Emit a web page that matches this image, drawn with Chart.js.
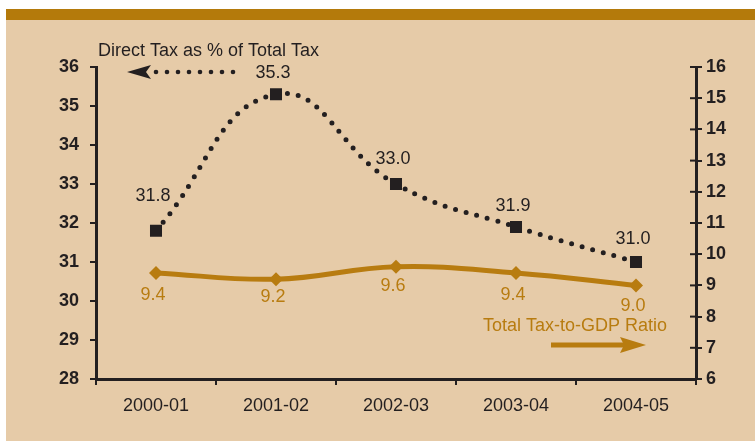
<!DOCTYPE html>
<html>
<head>
<meta charset="utf-8">
<script src="https://cdn.jsdelivr.net/npm/chart.js@4.4.1/dist/chart.umd.min.js"></script>
<style>
  html, body { margin: 0; padding: 0; background: #ffffff; }
  #wrap { width: 755px; height: 441px; position: relative; }
</style>
</head>
<body>
<div id="wrap"><canvas id="c" width="755" height="441"></canvas></div>
<script>
// Fiscal years on the category axis
const years = ['2000-01', '2001-02', '2002-03', '2003-04', '2004-05'];
// Direct taxes as a share of total tax revenue (%), left axis
const directTaxShare = [31.8, 35.3, 33.0, 31.9, 31.0];
// Total tax revenue as a share of GDP (%), right axis
const taxToGdp = [9.4, 9.2, 9.6, 9.4, 9.0];
// Axis ranges
const leftAxisRange = [28, 36];
const rightAxisRange = [6, 16];

const INK = '#231F20';
const GOLD = '#B87C10';
const BG = '#E6CBA8';
const BAR = '#B47A0B';
const FONT = "'Liberation Sans', Arial, Helvetica, sans-serif";

// Page backdrop: white margin, brown header rule, beige panel
const backdrop = {
  id: 'backdrop',
  beforeDraw(chart) {
    const { ctx, width, height } = chart;
    ctx.save();
    ctx.fillStyle = '#ffffff';
    ctx.fillRect(0, 0, width, height);
    ctx.fillStyle = BG;
    ctx.fillRect(6, 20, width - 6, height - 20);
    ctx.fillStyle = BAR;
    ctx.fillRect(6, 9, width - 6, 11);
    ctx.restore();
  }
};

// Right axis ticks cross the axis line
const crossTicks = {
  id: 'crossTicks',
  afterDraw(chart) {
    const s = chart.scales.y2;
    const { ctx } = chart;
    ctx.save();
    ctx.strokeStyle = INK;
    ctx.lineWidth = 2;
    s.ticks.forEach(t => {
      const y = s.getPixelForValue(t.value);
      ctx.beginPath();
      ctx.moveTo(s.left - 6, y);
      ctx.lineTo(s.left, y);
      ctx.stroke();
    });
    ctx.restore();
  }
};

// Value labels next to each point
const valueLabels = {
  id: 'valueLabels',
  afterDatasetsDraw(chart) {
    const { ctx } = chart;
    ctx.save();
    ctx.font = '18px ' + FONT;
    ctx.textAlign = 'center';
    ctx.textBaseline = 'middle';
    const lift = [35, 21, 25, 21, 23];
    const drop = [22, 18, 19, 22, 21];
    chart.getDatasetMeta(0).data.forEach((p, i) => {
      ctx.fillStyle = INK;
      ctx.fillText(directTaxShare[i].toFixed(1), p.x - 3, p.y - lift[i]);
    });
    chart.getDatasetMeta(1).data.forEach((p, i) => {
      ctx.fillStyle = GOLD;
      ctx.fillText(taxToGdp[i].toFixed(1), p.x - 3, p.y + drop[i]);
    });
    ctx.restore();
  }
};

// Series captions with arrows pointing to their axes
const captions = {
  id: 'captions',
  afterDraw(chart) {
    const { ctx } = chart;
    ctx.save();
    ctx.font = '18px ' + FONT;
    ctx.textBaseline = 'alphabetic';
    ctx.textAlign = 'left';
    ctx.fillStyle = INK;
    ctx.fillText('Direct Tax as % of Total Tax', 98, 56);

    // dotted arrow to the left axis
    ctx.fillStyle = INK;
    for (let x = 156; x <= 236; x += 11) {
      ctx.beginPath();
      ctx.arc(x, 72, 2.3, 0, Math.PI * 2);
      ctx.fill();
    }
    ctx.beginPath();
    ctx.moveTo(127, 72);
    ctx.lineTo(151, 65);
    ctx.lineTo(146, 72);
    ctx.lineTo(151, 79);
    ctx.closePath();
    ctx.fill();

    ctx.fillStyle = GOLD;
    ctx.fillText('Total Tax-to-GDP Ratio', 483, 331);

    // solid arrow to the right axis
    ctx.strokeStyle = GOLD;
    ctx.lineWidth = 5;
    ctx.beginPath();
    ctx.moveTo(551, 345);
    ctx.lineTo(628, 345);
    ctx.stroke();
    ctx.beginPath();
    ctx.moveTo(646, 345);
    ctx.lineTo(620, 337);
    ctx.lineTo(624, 345);
    ctx.lineTo(620, 353);
    ctx.closePath();
    ctx.fill();
    ctx.restore();
  }
};

new Chart(document.getElementById('c'), {
  type: 'line',
  data: {
    labels: years,
    datasets: [
      {
        label: 'Direct Tax as % of Total Tax',
        data: directTaxShare,
        yAxisID: 'y',
        borderColor: INK,
        borderWidth: 5,
        borderDash: [0, 11],
        borderCapStyle: 'round',
        tension: 0.45,
        pointStyle: 'rect',
        pointRadius: 8.5,
        pointBackgroundColor: INK,
        pointBorderWidth: 0,
        order: 0
      },
      {
        label: 'Total Tax-to-GDP Ratio',
        data: taxToGdp,
        yAxisID: 'y2',
        borderColor: GOLD,
        borderWidth: 5,
        tension: 0.4,
        pointStyle: 'rectRot',
        pointRadius: 7,
        pointBackgroundColor: GOLD,
        pointBorderWidth: 0,
        order: 1
      }
    ]
  },
  options: {
    responsive: false,
    animation: false,
    devicePixelRatio: 1,
    layout: { padding: { top: 67, left: 0, right: 0, bottom: 0 } },
    plugins: { legend: { display: false }, tooltip: { enabled: false } },
    scales: {
      x: {
        offset: true,
        grid: { offset: true, drawOnChartArea: false, drawTicks: true, tickLength: 6, color: INK, lineWidth: 2 },
        border: { display: true, color: INK, width: 3 },
        ticks: { color: INK, font: { family: FONT, size: 18 }, padding: 10, maxRotation: 0 },
        afterFit(s) { s.height = 62; }
      },
      y: {
        position: 'left',
        min: leftAxisRange[0],
        max: leftAxisRange[1],
        grid: { drawOnChartArea: false, drawTicks: true, tickLength: 6, color: INK, lineWidth: 2 },
        border: { display: true, color: INK, width: 3 },
        ticks: { stepSize: 1, color: INK, font: { family: FONT, size: 18, weight: 'bold' }, padding: 11 },
        afterFit(s) { s.width = 96; }
      },
      y2: {
        position: 'right',
        min: rightAxisRange[0],
        max: rightAxisRange[1],
        grid: { drawOnChartArea: false, drawTicks: true, tickLength: 6, color: INK, lineWidth: 2 },
        border: { display: true, color: INK, width: 3 },
        ticks: { stepSize: 1, color: INK, font: { family: FONT, size: 18, weight: 'bold' }, padding: 4 },
        afterFit(s) { s.width = 59; }
      }
    }
  },
  plugins: [backdrop, crossTicks, valueLabels, captions]
});
</script>
</body>
</html>
